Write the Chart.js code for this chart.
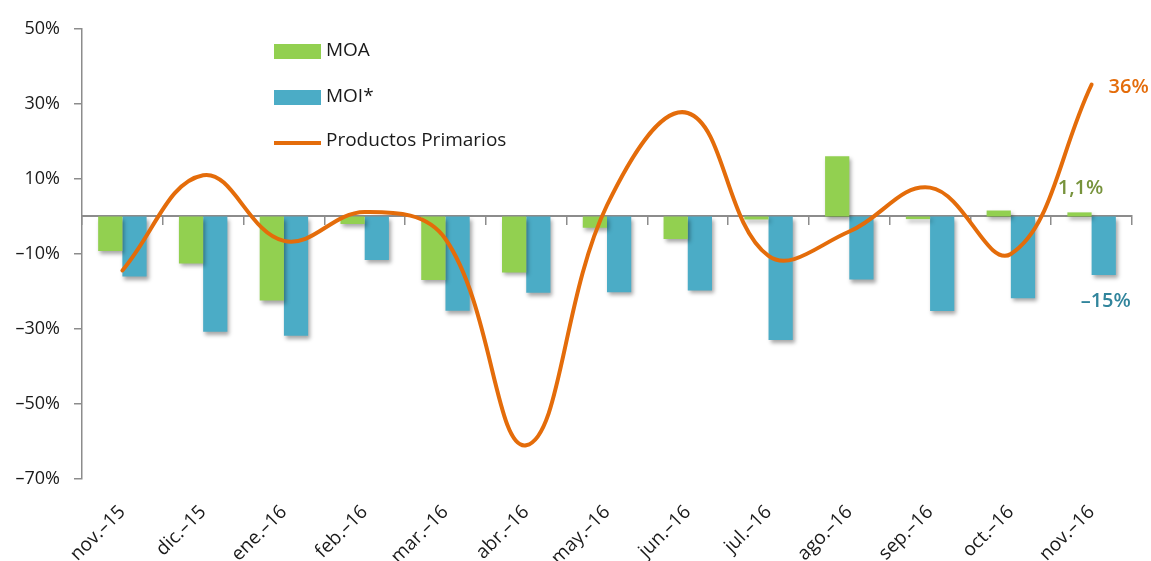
<!DOCTYPE html>
<html><head><meta charset="utf-8">
<script src="https://cdn.jsdelivr.net/npm/chart.js@4/dist/chart.umd.min.js"></script>
<style>html,body{margin:0;padding:0;background:#fff;overflow:hidden}</style>
</head><body>
<canvas id="c" width="1151" height="561"></canvas>
<script>
const categories = ['nov.–15','dic.–15','ene.–16','feb.–16','mar.–16','abr.–16','may.–16','jun.–16','jul.–16','ago.–16','sep.–16','oct.–16','nov.–16'];
const moa = [-9.2,-12.5,-22.4,-2,-16.9,-14.9,-3,-6,-0.8,16.1,-0.7,1.6,1.1];
const moi = [-16,-30.7,-31.8,-11.6,-25.1,-20.3,-20.2,-19.7,-32.9,-16.8,-25.2,-21.8,-15.6];
const primarios = [-14.4,11,-6.5,1.2,-6,-61,3,27.6,-10.5,-4,7.7,-10,35.2];
const yTicks = [-70,-50,-30,-10,10,30,50];
const seriesNames = ['MOA','MOI*','Productos Primarios'];
const endLabels = ['1,1%','–15%','36%'];

const FONT = '"Open Sans", "Noto Sans", sans-serif';
const GREEN = '#92D050', BLUE = '#4BACC6', ORANGE = '#E46C0A', AXIS = '#8c8c8c';

const barShadow = {
  id: 'barShadow',
  beforeDatasetDraw(chart, args) {
    if (args.meta.type !== 'bar') return;
    const ctx = chart.ctx;
    ctx.save();
    ctx.shadowColor = 'rgba(0,0,0,0.35)';
    ctx.shadowBlur = 4;
    ctx.shadowOffsetX = 2;
    ctx.shadowOffsetY = 3;
  },
  afterDatasetDraw(chart, args) {
    if (args.meta.type !== 'bar') return;
    chart.ctx.restore();
  }
};

const customLegend = {
  id: 'customLegend',
  afterDraw(chart) {
    const ctx = chart.ctx;
    const x0 = 274, w = 47;
    const rows = [51, 97, 141];
    ctx.save();
    ctx.font = '19px ' + FONT;
    ctx.textBaseline = 'middle';
    chart.data.datasets.forEach((ds, i) => {
      const y = rows[i];
      if (ds.type === 'line') {
        ctx.strokeStyle = ds.borderColor;
        ctx.lineWidth = 4;
        ctx.beginPath(); ctx.moveTo(x0, y + 2); ctx.lineTo(x0 + w, y + 2); ctx.stroke();
      } else {
        ctx.fillStyle = ds.backgroundColor;
        ctx.fillRect(x0, y - 7, w, 15);
      }
      ctx.fillStyle = '#1a1a1a';
      ctx.textAlign = 'left';
      ctx.fillText(ds.label, x0 + 52, y);
    });
    ctx.restore();
  }
};

const endAnnotations = {
  id: 'endAnnotations',
  afterDraw(chart) {
    const ctx = chart.ctx;
    const last = categories.length - 1;
    ctx.save();
    ctx.font = '600 20px ' + FONT;
    ctx.textBaseline = 'middle';
    const pMoa = chart.getDatasetMeta(0).data[last];
    ctx.fillStyle = '#77933C'; ctx.textAlign = 'center';
    ctx.fillText(endLabels[0], pMoa.x + 1, pMoa.y - 24);
    const pMoi = chart.getDatasetMeta(1).data[last];
    ctx.fillStyle = '#31859C'; ctx.textAlign = 'center';
    ctx.fillText(endLabels[1], pMoi.x + 2, pMoi.y + 26);
    const pLine = chart.getDatasetMeta(2).data[last];
    ctx.fillStyle = ORANGE; ctx.textAlign = 'left';
    ctx.fillText(endLabels[2], pLine.x + 17, pLine.y + 3);
    ctx.restore();
  }
};

new Chart(document.getElementById('c'), {
  data: {
    labels: categories,
    datasets: [
      { type: 'bar', label: seriesNames[0], data: moa, backgroundColor: GREEN, order: 2, xAxisID: 'x', yAxisID: 'y',
        categoryPercentage: 0.6, barPercentage: 1.0 },
      { type: 'bar', label: seriesNames[1], data: moi, backgroundColor: BLUE, order: 2, xAxisID: 'x', yAxisID: 'y',
        categoryPercentage: 0.6, barPercentage: 1.0 },
      { type: 'line', label: seriesNames[2], data: primarios, borderColor: ORANGE, backgroundColor: ORANGE,
        borderWidth: 4, pointRadius: 0, tension: 0.4, order: 0, xAxisID: 'x', yAxisID: 'y',
        borderCapStyle: 'round', borderJoinStyle: 'round' }
    ]
  },
  options: {
    responsive: false,
    animation: false,
    devicePixelRatio: 1,
    layout: { padding: { top: 29, right: 19, left: 0, bottom: 0 } },
    plugins: { legend: { display: false }, tooltip: { enabled: false } },
    scales: {
      x: {
        type: 'category',
        position: { y: 0 },
        offset: true,
        grid: { display: true, offset: true, drawOnChartArea: false, drawTicks: true, tickLength: 8, color: AXIS, lineWidth: 1.5 },
        border: { display: true, color: AXIS, width: 2 },
        ticks: { display: false }
      },
      x2: {
        type: 'category',
        position: 'bottom',
        offset: true,
        labels: categories,
        grid: { display: false },
        border: { display: false },
        ticks: { display: true, maxRotation: 45, minRotation: 45, autoSkip: false, padding: 14,
          color: '#1a1a1a', font: { family: FONT, size: 19 } },
        afterFit(scale) { scale.height = 82; }
      },
      y: {
        type: 'linear',
        min: -70, max: 50,
        afterBuildTicks(scale) { scale.ticks = yTicks.map(v => ({ value: v })); },
        grid: { display: true, drawOnChartArea: false, drawTicks: true, tickLength: 8, color: AXIS, lineWidth: 1.5 },
        border: { display: true, color: AXIS, width: 1.5 },
        ticks: { padding: 14, color: '#1a1a1a', font: { family: FONT, size: 18 },
          callback: v => (v < 0 ? '–' + Math.abs(v) : v) + '%' },
        afterFit(scale) { scale.width = 82; }
      }
    }
  },
  plugins: [barShadow, customLegend, endAnnotations]
});
</script>
</body></html>
